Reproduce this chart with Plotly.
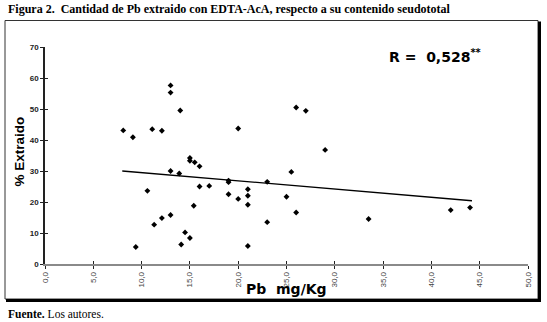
import plotly.graph_objects as go

# Data
pb_mgkg = [8.1, 9.1, 9.4, 10.6, 11.1, 11.3, 12.1, 12.1, 13.0, 13.0, 13.0, 13.0,
           14.0, 13.9, 14.1, 14.5, 15.0, 15.0, 15.0, 15.5, 15.4, 16.0, 16.0, 17.0,
           19.0, 19.0, 19.0, 20.0, 20.0, 21.0, 21.0, 21.0, 21.0, 23.0, 23.0,
           26.0, 27.0, 29.0, 25.5, 25.0, 26.0, 33.5, 42.0, 44.0]
pct_extraido = [43.1, 40.9, 5.5, 23.6, 43.5, 12.7, 43.0, 14.8, 57.6, 55.3, 30.0, 15.8,
                49.5, 29.2, 6.3, 10.2, 8.4, 34.2, 33.3, 32.8, 18.8, 31.5, 25.0, 25.2,
                26.9, 26.4, 22.5, 43.7, 21.0, 24.1, 22.0, 19.1, 5.8, 26.5, 13.5,
                50.5, 49.4, 36.8, 29.7, 21.7, 16.6, 14.5, 17.4, 18.2]
trend_x = [8.0, 44.2]
trend_y = [30.0, 20.4]
x_ticks = [0, 5, 10, 15, 20, 25, 30, 35, 40, 45, 50]
y_ticks = [0, 10, 20, 30, 40, 50, 60, 70]
y_ticktext = ["<b>%d</b>" % v for v in y_ticks]

fig = go.Figure()
fig.add_trace(go.Scatter(x=pb_mgkg, y=pct_extraido, mode="markers",
                         marker=dict(symbol="diamond", size=4.5, color="black"),
                         showlegend=False, hoverinfo="x+y"))
fig.add_trace(go.Scatter(x=trend_x, y=trend_y, mode="lines",
                         line=dict(color="black", width=1.3),
                         showlegend=False, hoverinfo="skip"))
# overlay axis for crossing ticks
fig.add_trace(go.Scatter(x=[0], y=[0], xaxis="x2", yaxis="y2", mode="markers",
                         marker=dict(size=1, opacity=0), showlegend=False, hoverinfo="skip"))

L, R_, T, B = 45, 19, 47, 58
W, H = 547, 322
pw, ph = W - L - R_, H - T - B

def px(x):
    return (x - L) / pw

def py(y):
    return (H - B - y) / ph

axis_common = dict(showgrid=False, zeroline=False, ticks="outside", ticklen=3,
                   tickwidth=1, tickcolor="#222", automargin=False)
fig.update_layout(
    width=W, height=H, margin=dict(l=L, r=R_, t=T, b=B),
    paper_bgcolor="white", plot_bgcolor="white",
    separators=",.",
    xaxis=dict(range=[0, 50], tickvals=x_ticks, tickformat=".1f", tickangle=-90,
               showline=True, linecolor="#8a8a8a", linewidth=1.5,
               tickfont=dict(family="Liberation Sans, Arial", size=8, color="#444"),
               **axis_common),
    yaxis=dict(range=[0, 70], tickvals=y_ticks, ticktext=y_ticktext, showline=True,
               linecolor="#222", linewidth=1.5,
               tickfont=dict(family="Liberation Sans, Arial", size=8, color="#222"),
               **axis_common),
    xaxis2=dict(range=[0, 50], overlaying="x", tickvals=x_ticks, showticklabels=False,
                ticks="inside", ticklen=3, tickcolor="#222", showgrid=False,
                zeroline=False, showline=False, anchor="y2", side="bottom"),
    yaxis2=dict(range=[0, 70], overlaying="y", tickvals=y_ticks, showticklabels=False,
                ticks="inside", ticklen=3, tickcolor="#222", showgrid=False,
                zeroline=False, showline=False, anchor="x2"),
    font=dict(family="Liberation Sans, Arial", color="black"),
)

# frame
x0, x1 = px(5), px(538)
y0, y1 = py(299), py(20.5)
fig.add_shape(type="rect", xref="paper", yref="paper", x0=x0, x1=x1, y0=y0, y1=y1,
              line=dict(color="#333", width=1))
fig.add_shape(type="line", xref="paper", yref="paper", x0=px(539.5), x1=px(539.5),
              y0=py(300.5), y1=py(21.5), line=dict(color="black", width=3))
fig.add_shape(type="line", xref="paper", yref="paper", x0=px(6), x1=px(541),
              y0=py(300.5), y1=py(300.5), line=dict(color="black", width=3))

ann = []
ann.append(dict(text="<b>Figura 2.  Cantidad de Pb extraido con EDTA-AcA, respecto a su contenido seudototal</b>",
                xref="paper", yref="paper", x=px(6), y=py(9), xanchor="left", yanchor="middle",
                showarrow=False, font=dict(family="Liberation Serif, Times New Roman", size=12)))
ann.append(dict(text="<b>Fuente.</b> Los autores.",
                xref="paper", yref="paper", x=px(6), y=py(314), xanchor="left", yanchor="middle",
                showarrow=False, font=dict(family="Liberation Serif, Times New Roman", size=11.5)))
ann.append(dict(text="<b>Pb  mg/Kg</b>", xref="paper", yref="paper", x=px(286.5), y=py(289),
                xanchor="center", yanchor="middle", showarrow=False,
                font=dict(family="DejaVu Sans", size=14)))
ann.append(dict(text="<b>% Extraido</b>", xref="paper", yref="paper", x=px(19), y=py(151.5),
                xanchor="center", yanchor="middle", textangle=-90, showarrow=False,
                font=dict(family="Liberation Sans, Arial", size=13.5)))
ann.append(dict(text="<b>R =  0,528<sup>**</sup></b>", xref="paper", yref="paper", x=px(387),
                y=py(56), xanchor="left", yanchor="middle", showarrow=False,
                font=dict(family="DejaVu Sans", size=14)))
fig.update_layout(annotations=ann)

fig.write_html("out.html", config={"displayModeBar": False},
               post_script="document.body.style.margin='0';document.body.style.overflow='hidden';")
